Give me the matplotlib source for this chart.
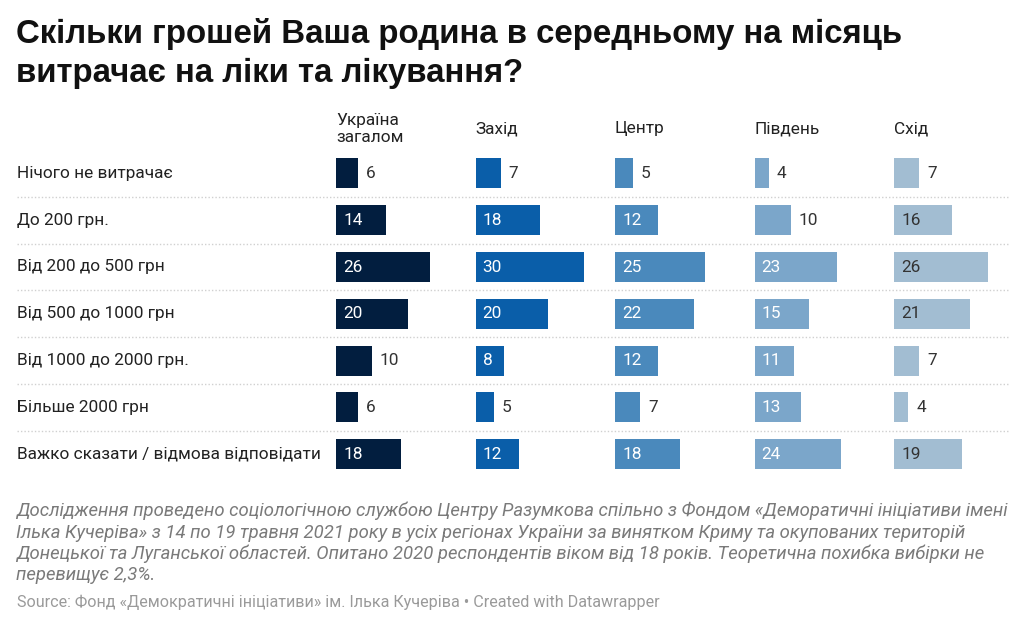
import matplotlib
matplotlib.use('Agg')
import matplotlib.pyplot as plt
from matplotlib.lines import Line2D

# Categories (rows) and regions (columns)
categories = [
    'Нічого не витрачає',
    'До 200 грн.',
    'Від 200 до 500 грн',
    'Від 500 до 1000 грн',
    'Від 1000 до 2000 грн.',
    'Більше 2000 грн',
    'Важко сказати / відмова відповідати',
]
regions = ['Україна\nзагалом', 'Захід', 'Центр', 'Південь', 'Схід']

ukraine = [6, 14, 26, 20, 10, 6, 18]
west = [7, 18, 30, 20, 8, 5, 12]
center = [5, 12, 25, 22, 12, 7, 18]
south = [4, 10, 23, 15, 11, 13, 24]
east = [7, 16, 26, 21, 7, 4, 19]
series = [ukraine, west, center, south, east]

colors = ['#021e3f', '#0a5ea9', '#4a89bc', '#7ba6ca', '#a2bdd2']
inside_text = ['white', 'white', 'white', 'white', '#333333']

title = 'Скільки грошей Ваша родина в середньому на місяць\nвитрачає на ліки та лікування?'
note = ('Дослідження проведено соціологічною службою Центру Разумкова спільно з Фондом «Деморатичні ініціативи імені\n'
        'Ілька Кучеріва» з 14 по 19 травня 2021 року в усіх регіонах України за винятком Криму та окупованих територій\n'
        'Донецької та Луганської областей. Опитано 2020 респондентів віком від 18 років. Теоретична похибка вибірки не\n'
        'перевищує 2,3%.')
source = 'Source: Фонд «Демократичні ініціативи» ім. Ілька Кучеріва • Created with Datawrapper'

W, H = 1024, 627
fig = plt.figure(figsize=(W / 100, H / 100), dpi=100)
fig.patch.set_facecolor('white')
plt.rcParams['font.family'] = ['Roboto', 'DejaVu Sans']


def fx(px):
    return px / W


def fy(py):
    return 1 - py / H


# layout in pixels
row_top, row_step = 150, 46.8
col_left, col_step = 336, 139.5
px_per_unit = 3.6
n = len(categories)
fs = 12.4

fig.text(fx(16), fy(18), title, fontsize=23.8, fontweight='bold',
         family='Liberation Sans', va='top', ha='left', color='#111111',
         linespacing=1.32)

for i, name in enumerate(regions):
    left = col_left + i * col_step
    ax = fig.add_axes([fx(left), fy(row_top + n * row_step), fx(col_step),
                       n * row_step / H])
    ax.barh(range(n), series[i], height=0.64, color=colors[i])
    ax.set_xlim(0, col_step / px_per_unit)
    ax.set_ylim(n - 0.5, -0.5)
    ax.axis('off')
    for r, v in enumerate(series[i]):
        lbl = str(v)
        if v * px_per_unit >= len(lbl) * 9 + 19:
            ax.text(2, r, lbl, color=inside_text[i], fontsize=fs,
                    va='center', ha='left')
        else:
            ax.text(v + 2.2, r, lbl, color='#333333', fontsize=fs,
                    va='center', ha='left')
    fig.text(fx(left), fy(129), name, fontsize=fs, color='#222222',
             va='center', ha='left', linespacing=1.2)

for r, cat in enumerate(categories):
    yc = row_top + (r + 0.5) * row_step
    fig.text(fx(17), fy(yc), cat, fontsize=fs, color='#222222',
             va='center', ha='left')
    if r < n - 1:
        ys = fy(row_top + (r + 1) * row_step)
        fig.add_artist(Line2D([fx(17), fx(1008)], [ys, ys], color='#d0d0d0',
                              lw=1, linestyle=(0, (1, 1.5))))

fig.text(fx(16), fy(502), note, fontsize=13.3, style='italic', color='#7a7a7a',
         va='top', ha='left', linespacing=1.22)
fig.text(fx(17), fy(602), source, fontsize=11.6, color='#9a9a9a',
         va='center', ha='left')

plt.savefig('out.png', dpi=100)
